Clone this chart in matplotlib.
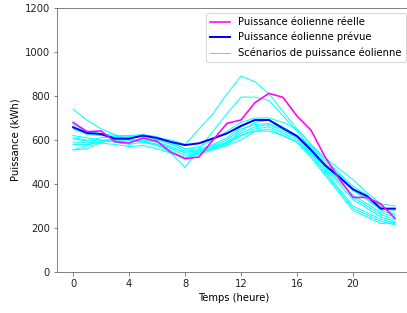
import matplotlib
matplotlib.use("Agg")
import matplotlib.pyplot as plt
import numpy as np

hours = list(range(24))
actual = [680, 638, 641, 592, 586, 609, 594, 544, 515, 523, 600, 676, 691, 770, 812, 794, 709, 645, 524, 426, 339, 339, 309, 244]
forecast = [658, 632, 627, 606, 606, 620, 609, 591, 577, 585, 607, 630, 664, 691, 691, 653, 618, 555, 486, 433, 376, 345, 288, 288]
scenarios = [
    [740, 690, 650, 625, 600, 590, 575, 550, 520, 540, 570, 590, 620, 640, 640, 620, 590, 540, 480, 430, 370, 330, 290, 280],
    [610, 600, 610, 615, 620, 615, 610, 600, 580, 650, 720, 810, 890, 865, 810, 730, 650, 580, 520, 470, 420, 360, 310, 300],
    [580, 580, 590, 600, 600, 595, 580, 540, 475, 560, 640, 720, 795, 795, 780, 710, 640, 560, 490, 420, 340, 300, 260, 240],
    [670, 640, 630, 620, 620, 625, 615, 590, 560, 570, 600, 640, 680, 700, 700, 680, 650, 580, 510, 450, 390, 350, 300, 260],
    [650, 625, 620, 615, 610, 620, 600, 580, 550, 555, 580, 610, 660, 690, 690, 660, 620, 560, 470, 400, 330, 290, 250, 230],
    [620, 610, 600, 595, 590, 600, 590, 570, 540, 545, 570, 590, 640, 680, 690, 650, 610, 540, 460, 380, 300, 270, 240, 220],
    [605, 595, 600, 590, 580, 590, 580, 560, 530, 540, 560, 580, 620, 650, 660, 630, 600, 530, 450, 370, 290, 260, 230, 215],
    [590, 590, 585, 580, 570, 575, 560, 540, 520, 535, 555, 575, 600, 640, 650, 620, 590, 520, 440, 360, 280, 250, 220, 225],
    [555, 560, 590, 600, 600, 600, 590, 565, 545, 550, 565, 585, 630, 660, 670, 640, 610, 550, 480, 410, 350, 310, 270, 250],
    [555, 575, 595, 610, 615, 620, 605, 585, 560, 560, 575, 600, 650, 670, 675, 650, 620, 570, 500, 440, 380, 330, 280, 260],
]

plt.rcParams['font.size'] = 10
DPI = 72
fig = plt.figure(figsize=(407/DPI, 313/DPI), dpi=DPI)
ax = fig.add_axes([57/407, 41/313, 354/407, 264/313])

for i, s in enumerate(scenarios):
    ax.plot(hours, s, color='#00ffff', lw=1.0,
            label='Scénarios de puissance éolienne' if i == 0 else None, zorder=1)
ax.plot(hours, forecast, color='#0000ff', lw=2.0, label='Puissance éolienne prévue', zorder=3)
ax.plot(hours, actual, color='#ff00ff', lw=1.6, label='Puissance éolienne réelle', zorder=4)

ax.set_xlim(-1.15, 24.15)
ax.set_ylim(0, 1200)
ax.set_xticks([0, 4, 8, 12, 16, 20])
ax.set_yticks([0, 200, 400, 600, 800, 1000, 1200])
ax.set_xlabel('Temps (heure)')
ax.set_ylabel('Puissance (kWh)')
for sp in ax.spines.values():
    sp.set_color('#666666')
ax.tick_params(colors='#666666', labelcolor='#222222', length=3.5)

h, l = ax.get_legend_handles_labels()
order = [2, 1, 0]
ax.legend([h[i] for i in order], [l[i] for i in order], loc='upper right')

fig.savefig('out.png', dpi=DPI)
